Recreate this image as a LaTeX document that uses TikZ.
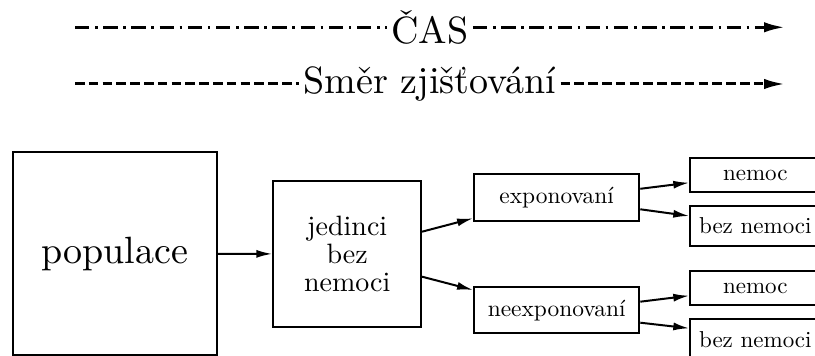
\documentclass[tikz,border=0pt]{standalone}
\usepackage{fontspec}
\setmainfont{lmroman10-regular}[Extension=.otf]
\usetikzlibrary{arrows.meta,calc}
\begin{document}
\begin{tikzpicture}[x=0.5pt,y=-0.5pt,
  box/.style={draw,line width=1pt,align=center,inner sep=0pt},
  bigtext/.style={font=\fontsize{19}{23}\selectfont},
  midtext/.style={font=\fontsize{14}{13.8}\selectfont},
  smalltext/.style={font=\fontsize{11.7}{14}\selectfont},
  leafbox/.style={draw,line width=1pt,inner xsep=0pt,inner ysep=5.85pt,minimum width=65pt,anchor=west,font=\fontsize{11.5}{14}\selectfont},
  arr/.style={line width=1pt,-{Latex[length=8pt,width=4pt]}},
  topline/.style={line width=1.5pt},
  toparr/.style={line width=1.5pt,-{Latex[length=10.5pt,width=5.2pt]}},
  dashdotline/.style={dash pattern=on 7.2pt off 2.8pt on 1.3pt off 2.8pt},
  dashline/.style={dash pattern=on 4.8pt off 2.1pt},
  toptext/.style={bigtext,inner sep=2pt}]
\useasboundingbox (0,0) rectangle (815,356);
\clip (0,0) rectangle (815,356);

% top lines
\coordinate (c1s) at (75,27.3);
\coordinate (c1e) at (785,27.3);
\node[toptext] (cas) at (430,27.3) {ČAS};
\draw[topline,dashdotline] (c1s) -- (cas.west);
\draw[toparr,dashdotline] (cas.east) -- (c1e);

\coordinate (c2s) at (75,84);
\coordinate (c2e) at (785,84);
\node[toptext] (smer) at (430,84) {Směr zjišťování};
\draw[topline,dashline] (c2s) -- (smer.west);
\draw[toparr,dashline] (smer.east) -- (c2e);

% boxes
\node[box,bigtext,minimum width=102pt,minimum height=101.3pt] (pop) at (114.7,253.7) {populace};
\node[box,midtext,minimum width=73.85pt,minimum height=73.35pt] (jed) at (347.2,254) {jedinci\\bez\\nemoci};
\node[box,smalltext,minimum width=82.6pt,minimum height=23.2pt] (expo) at (556.7,197.5) {exponovaní};
\node[box,smalltext,minimum width=82.6pt,minimum height=23pt] (neexpo) at (556.7,310.3) {neexponovaní};

\node[leafbox] (n1) at (689.3,175) {nemoc};
\node[leafbox] (b1) at (689.3,226) {bez nemoci};
\node[leafbox] (n2) at (689.3,288.3) {nemoc};
\node[leafbox] (b2) at (689.3,339.3) {bez nemoci};

% arrows
\draw[arr] (pop) -- (jed);
\draw[arr] ($(jed.east)+(0,-22.3)$) -- ($(expo.west)+(0,20.8)$);
\draw[arr] ($(jed.east)+(0,22.7)$) -- ($(neexpo.west)+(0,-20.3)$);
\draw[arr] ($(expo.east)+(0,-8.7)$) -- ($(n1.west)+(0,7.7)$);
\draw[arr] ($(expo.east)+(0,11.8)$) -- ($(b1.west)+(0,-10)$);
\draw[arr] ($(neexpo.east)+(0,-8.6)$) -- ($(n2.west)+(0,7.4)$);
\draw[arr] ($(neexpo.east)+(0,12.4)$) -- ($(b2.west)+(0,-11)$);
\end{tikzpicture}
\end{document}
